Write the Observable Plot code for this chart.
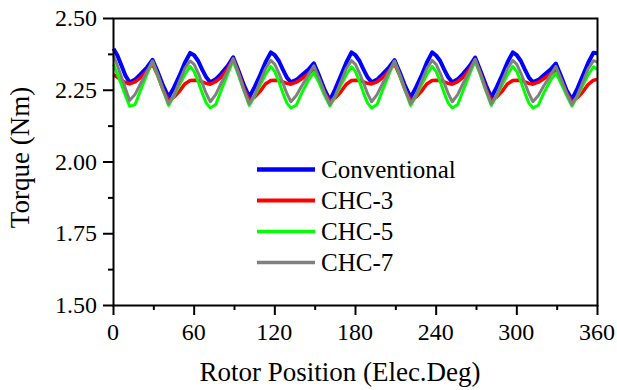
<!DOCTYPE html>
<html>
<head>
<meta charset="utf-8">
<script src="https://cdn.jsdelivr.net/npm/d3@7"></script>
<script src="https://cdn.jsdelivr.net/npm/@observablehq/plot@0.6"></script>
<style>
  html, body { margin: 0; padding: 0; background: white; }
</style>
</head>
<body>
<div id="wrap"></div>
<script>
// ---- data ----
const rotorPos = [
  0,3,6,9,12,16,20,25,29,33,37,41,45,49,53,57,
  60,63,66,69,72,76,80,85,89,93,97,101,105,109,113,117,
  120,123,126,129,132,136,140,145,149,153,157,161,165,169,173,177,
  180,183,186,189,192,196,200,205,209,213,217,221,225,229,233,237,
  240,243,246,249,252,256,260,265,269,273,277,281,285,289,293,297,
  300,303,306,309,312,316,320,325,329,333,337,341,345,349,353,357,
  360
];
const conventional = [
  2.395,2.370,2.335,2.300,2.278,2.287,2.305,2.330,2.356,2.313,2.265,2.226,2.260,2.300,2.345,2.380,
  2.372,2.352,2.322,2.295,2.278,2.288,2.307,2.335,2.365,2.318,2.268,2.226,2.262,2.302,2.347,2.382,
  2.372,2.352,2.322,2.294,2.278,2.286,2.302,2.322,2.344,2.300,2.252,2.215,2.255,2.300,2.345,2.382,
  2.372,2.352,2.322,2.295,2.278,2.287,2.305,2.330,2.355,2.312,2.264,2.225,2.260,2.300,2.346,2.382,
  2.371,2.352,2.322,2.295,2.278,2.288,2.307,2.335,2.364,2.317,2.268,2.225,2.261,2.302,2.347,2.382,
  2.372,2.352,2.322,2.294,2.278,2.286,2.302,2.322,2.343,2.298,2.250,2.218,2.256,2.300,2.345,2.381,
  2.378
];
const chc3 = [
  2.305,2.295,2.285,2.277,2.272,2.279,2.293,2.318,2.342,2.300,2.250,2.214,2.226,2.246,2.272,2.284,
  2.285,2.284,2.279,2.274,2.271,2.280,2.295,2.325,2.358,2.310,2.255,2.214,2.226,2.246,2.272,2.284,
  2.285,2.284,2.279,2.274,2.271,2.278,2.290,2.308,2.324,2.285,2.240,2.210,2.224,2.244,2.270,2.284,
  2.285,2.284,2.279,2.274,2.272,2.279,2.293,2.318,2.343,2.300,2.250,2.214,2.226,2.246,2.272,2.284,
  2.285,2.284,2.279,2.274,2.271,2.280,2.295,2.324,2.355,2.308,2.254,2.214,2.226,2.246,2.272,2.284,
  2.285,2.284,2.279,2.274,2.271,2.278,2.290,2.307,2.320,2.283,2.240,2.210,2.224,2.244,2.270,2.285,
  2.288
];
const chc5 = [
  2.340,2.305,2.268,2.230,2.194,2.200,2.248,2.307,2.350,2.300,2.248,2.197,2.230,2.268,2.304,2.333,
  2.315,2.280,2.240,2.205,2.188,2.200,2.248,2.308,2.353,2.302,2.248,2.197,2.230,2.268,2.304,2.333,
  2.315,2.280,2.240,2.205,2.188,2.198,2.240,2.285,2.312,2.275,2.232,2.195,2.228,2.266,2.303,2.332,
  2.315,2.280,2.240,2.205,2.188,2.200,2.248,2.307,2.350,2.300,2.248,2.197,2.230,2.268,2.304,2.333,
  2.315,2.280,2.240,2.205,2.188,2.200,2.248,2.308,2.352,2.302,2.248,2.197,2.230,2.268,2.304,2.333,
  2.315,2.280,2.240,2.205,2.188,2.198,2.240,2.284,2.310,2.273,2.232,2.195,2.228,2.266,2.303,2.332,
  2.322
];
const chc7 = [
  2.372,2.335,2.295,2.254,2.214,2.235,2.272,2.315,2.352,2.305,2.250,2.203,2.233,2.280,2.325,2.352,
  2.340,2.310,2.275,2.238,2.210,2.235,2.274,2.318,2.360,2.310,2.252,2.203,2.233,2.280,2.325,2.354,
  2.340,2.310,2.275,2.238,2.210,2.232,2.265,2.303,2.335,2.290,2.242,2.200,2.232,2.278,2.324,2.353,
  2.340,2.310,2.275,2.238,2.210,2.235,2.272,2.315,2.352,2.305,2.250,2.203,2.233,2.280,2.325,2.354,
  2.340,2.310,2.275,2.238,2.210,2.235,2.274,2.318,2.358,2.308,2.252,2.203,2.233,2.280,2.325,2.354,
  2.340,2.310,2.275,2.238,2.210,2.232,2.265,2.302,2.333,2.288,2.240,2.200,2.232,2.278,2.324,2.353,
  2.348
];
const seriesNames = ["Conventional", "CHC-3", "CHC-5", "CHC-7"];
const seriesColors = ["#0000ff", "#ff0000", "#00ff00", "#808080"];
const seriesWidths = [4, 3.5, 3, 3];
const xTicks = [0, 60, 120, 180, 240, 300, 360];
const xMinorTicks = [30, 90, 150, 210, 270, 330];
const yTicks = [1.50, 1.75, 2.00, 2.25, 2.50];
const yMinorTicks = [1.625, 1.875, 2.125, 2.375];
const xLabel = "Rotor Position (Elec.Deg)";
const yLabel = "Torque (Nm)";

const allValues = [conventional, chc3, chc5, chc7];
const rows = allValues.map((vals, s) => rotorPos.map((x, i) => ({x, y: vals[i], s: seriesNames[s]})));

// texts (tick labels, axis titles, legend) placed through the plot's scales and frame
function textMark(index, scales, values, dimensions) {
  const g = d3.create("svg:g").attr("fill", "black");
  const bottom = dimensions.height - dimensions.marginBottom;
  const left = dimensions.marginLeft;
  const top = dimensions.marginTop;
  const right = dimensions.width - dimensions.marginRight;
  const fmt = d3.format(".2f");
  xTicks.forEach(v => {
    g.append("text").attr("x", scales.x(v)).attr("y", bottom + 35)
      .attr("text-anchor", "middle").attr("font-size", 24).text(String(v));
  });
  yTicks.forEach(v => {
    g.append("text").attr("x", left - 16).attr("y", scales.y(v) + 8)
      .attr("text-anchor", "end").attr("font-size", 24).text(fmt(v));
  });
  g.append("text").attr("x", (left + right) / 2 - 15).attr("y", bottom + 76)
    .attr("text-anchor", "middle").attr("font-size", 27).text(xLabel);
  g.append("text").attr("transform", `translate(${left - 84.5},${(top + bottom) / 2 - 4}) rotate(-90)`)
    .attr("text-anchor", "middle").attr("font-size", 27).text(yLabel);
  const lx = left + 144;
  const ly = top + 151.5;
  seriesNames.forEach((name, i) => {
    const yy = ly + i * 31;
    g.append("line")
      .attr("x1", lx).attr("x2", lx + 58)
      .attr("y1", yy).attr("y2", yy)
      .attr("stroke", seriesColors[i])
      .attr("stroke-width", seriesWidths[i] + 0.5);
    g.append("text")
      .attr("x", lx + 64).attr("y", yy + 8.5)
      .attr("text-anchor", "start")
      .attr("font-size", 25)
      .text(name);
  });
  return g.node();
}

const chart = Plot.plot({
  width: 617,
  height: 390,
  marginLeft: 113,
  marginRight: 20,
  marginTop: 18,
  marginBottom: 85,
  x: {domain: [0, 360]},
  y: {domain: [1.5, 2.5]},
  style: "font-family: 'Liberation Serif', monospace; background: white; color: black; font-size: 24px;",
  marks: [
    ...rows.map((r, s) => Plot.line(r, {x: "x", y: "y", stroke: seriesColors[s], strokeWidth: seriesWidths[s], strokeLinejoin: "round", strokeLinecap: "butt"})),
    Plot.frame({stroke: "black", strokeWidth: 2}),
    Plot.axisX({ticks: xTicks, tickSize: 10, strokeWidth: 2, label: null, tickFormat: () => ""}),
    Plot.axisX({ticks: xMinorTicks, tickSize: 5, strokeWidth: 2, label: null, tickFormat: () => ""}),
    Plot.axisY({ticks: yTicks, tickSize: 10, strokeWidth: 2, label: null, tickFormat: () => ""}),
    Plot.axisY({ticks: yMinorTicks, tickSize: 5, strokeWidth: 2, label: null, tickFormat: () => ""}),
    textMark
  ]
});

document.getElementById("wrap").appendChild(chart);
</script>
</body>
</html>
